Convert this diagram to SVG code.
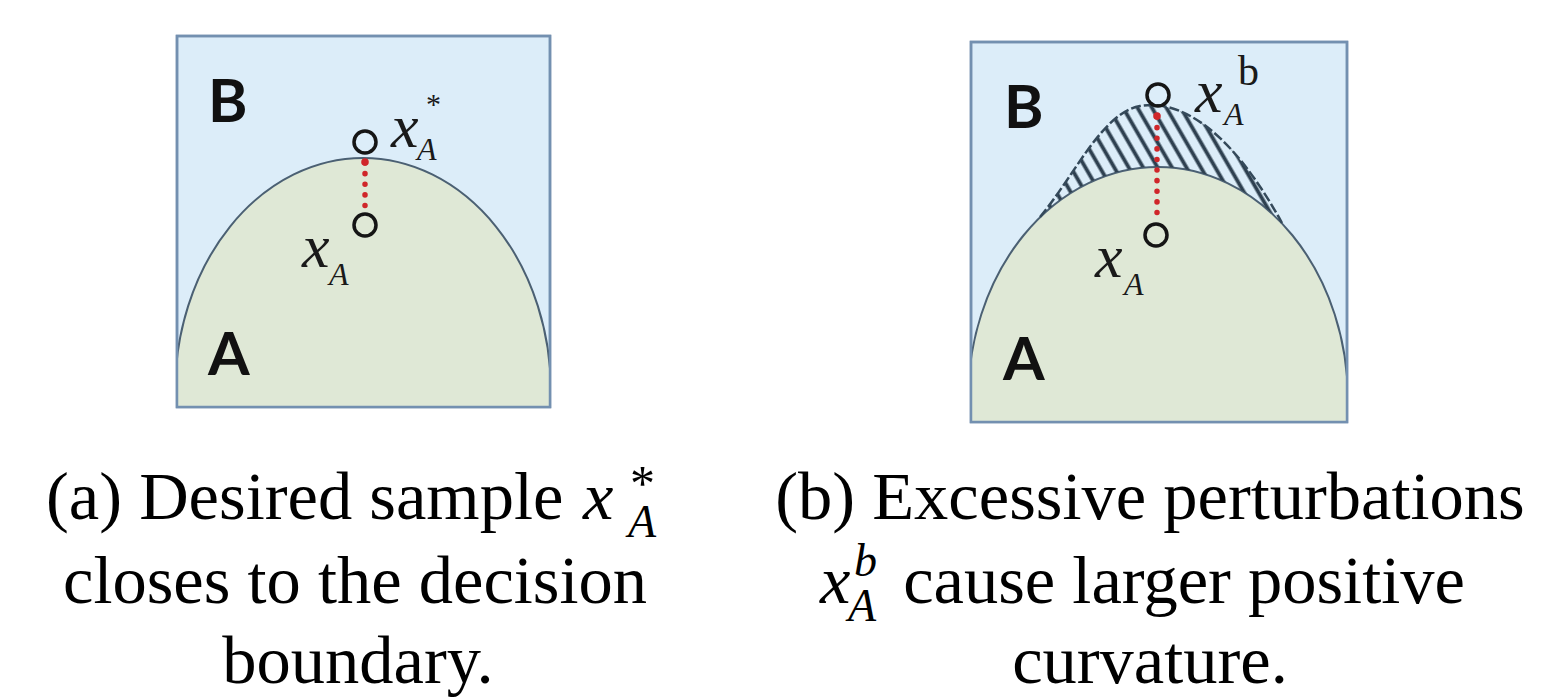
<svg xmlns="http://www.w3.org/2000/svg" width="1548" height="700" viewBox="0 0 1548 700">
<style>
.box{fill:#dcedf9;stroke:#7390b0;stroke-width:2.5}
.regA{fill:#dfe8d6;stroke:#4b6073;stroke-width:2}
.pt{fill:none;stroke:#151515;stroke-width:3.5}
.lbl{font-family:Lato,"Liberation Sans",sans-serif;font-weight:700;font-size:60px;fill:#111}
.mx{font-family:"Liberation Serif","Times New Roman",serif;font-style:italic;fill:#1a1a1a}
.cap{font-family:"Liberation Serif","Times New Roman",serif;font-size:68.5px;fill:#000}
.capm{font-family:"Liberation Serif","Times New Roman",serif;font-style:italic}
.dots{stroke:#d0262a;stroke-width:5.5;stroke-linecap:round;stroke-dasharray:0.1 10.5;fill:none}
</style>
<defs>
<clipPath id="clipA"><rect x="177" y="36" width="373" height="371"/></clipPath>
<clipPath id="clipB"><rect x="971" y="42" width="376" height="380"/></clipPath>
<pattern id="hatch" patternUnits="userSpaceOnUse" width="12.5" height="12.5" patternTransform="rotate(-30)">
<line x1="6.25" y1="-2" x2="6.25" y2="15" stroke="#2e4050" stroke-width="3.8"/>
</pattern>
</defs>

<g id="panel-a">
<rect class="box" x="177" y="36" width="373" height="371"/>
<g clip-path="url(#clipA)">
<ellipse class="regA" cx="363" cy="392" rx="188" ry="234"/>
</g>
<rect x="177" y="36" width="373" height="371" fill="none" stroke="#7390b0" stroke-width="2.5"/>
<text class="lbl" x="208" y="122">B</text>
<text class="lbl" x="208" y="375">A</text>
</g>

<g id="panel-b">
<rect class="box" x="971" y="42" width="376" height="380"/>
<g clip-path="url(#clipB)">
<ellipse class="regA" cx="1158" cy="400" rx="190" ry="233"/>
</g>
<path id="bump" d="M1040,217 C1075,175 1102,113 1140,106 C1182,99 1232,132 1282,223 A190 233 0 0 0 1040,217 Z" fill="url(#hatch)"/>
<path d="M1040,217 C1075,175 1102,113 1140,106 C1182,99 1232,132 1282,223" fill="none" stroke="#34495a" stroke-width="2.5" stroke-dasharray="10 3"/>
<rect x="971" y="42" width="376" height="380" fill="none" stroke="#7390b0" stroke-width="2.5"/>
<text class="lbl" x="1004" y="128">B</text>
<text class="lbl" x="1003" y="380">A</text>
</g>

<g id="connectors">
<line class="dots" x1="365" y1="163" x2="365" y2="212"/>
<circle cx="365" cy="162" r="3.8" fill="#d0262a"/>
<line class="dots" x1="1157" y1="117" x2="1157" y2="222"/>
<circle cx="1157" cy="116" r="3.8" fill="#d0262a"/>
</g>

<g id="point-xstar-a">
<circle class="pt" cx="365" cy="142" r="11"/>
<text class="mx" font-size="62" x="391" y="147">x</text>
<text class="mx" font-size="32" x="417" y="160">A</text>
<text font-family="Liberation Serif,serif" font-size="30" fill="#1a1a1a" x="426" y="114">*</text>
</g>
<g id="point-x-a">
<circle class="pt" cx="365" cy="225" r="11"/>
<text class="mx" font-size="62" x="302" y="267">x</text>
<text class="mx" font-size="32" x="329" y="285">A</text>
</g>

<g id="point-xb-b">
<circle class="pt" cx="1158" cy="95" r="11"/>
<text class="mx" font-size="62" x="1195" y="112">x</text>
<text class="mx" font-size="32" x="1224" y="125">A</text>
<text font-family="Liberation Serif,serif" font-size="42" fill="#1a1a1a" x="1238" y="85">b</text>
</g>
<g id="point-x-b">
<circle class="pt" cx="1156" cy="235" r="11"/>
<text class="mx" font-size="62" x="1095" y="277">x</text>
<text class="mx" font-size="32" x="1124" y="295">A</text>
</g>

<g id="caption-a">
<text class="cap" x="46" y="519">(a) Desired sample <tspan class="capm" x="583">x</tspan><tspan font-size="50" x="630" y="500">*</tspan><tspan class="capm" font-size="46" x="628" y="537">A</tspan></text>
<text class="cap" x="355" y="603" text-anchor="middle">closes to the decision</text>
<text class="cap" x="358" y="683" text-anchor="middle">boundary.</text>
</g>

<g id="caption-b">
<text class="cap" x="1150" y="519" text-anchor="middle" font-size="69.5">(b) Excessive perturbations</text>
<text class="cap" x="820" y="603" font-size="69.5"><tspan class="capm">x</tspan><tspan class="capm" font-size="46" x="854" y="576">b</tspan><tspan class="capm" font-size="46" x="848" y="621">A</tspan><tspan x="886" y="603"> cause larger positive</tspan></text>
<text class="cap" x="1150" y="683" text-anchor="middle" font-size="69.5">curvature.</text>
</g>
</svg>
